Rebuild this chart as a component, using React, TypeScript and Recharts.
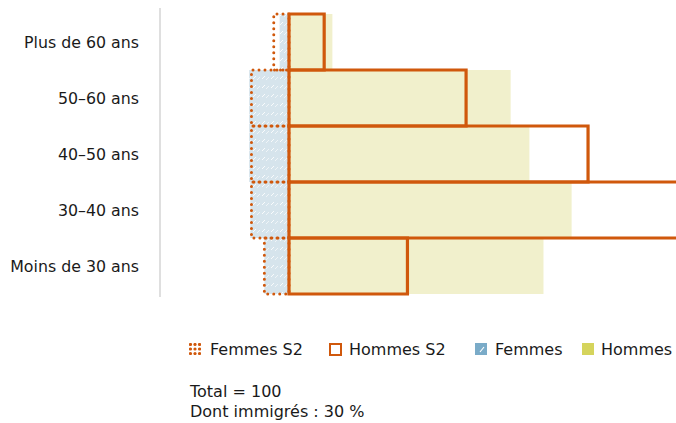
import React from "react";
import { BarChart, Bar, XAxis, YAxis, Legend } from "recharts";

const categories = ["Plus de 60 ans", "50–60 ans", "40–50 ans", "30–40 ans", "Moins de 30 ans"];
const hommes = [3.7, 18.9, 20.5, 24.1, 21.7];
const hommesS2 = [3.0, 15.1, 25.5, 36.0, 10.1];
const femmes = [-0.8, -3.4, -3.4, -3.3, -2.1];
const femmesS2 = [-1.3, -3.2, -3.2, -3.2, -2.1];
const totalLines = ["Total = 100", "Dont immigrés : 30 %"];

const ORANGE = "#d0580c";
const YELLOW = "#f1f0cc";
const BLUE = "#d6e4ec";
const FONT = "'DejaVu Sans', sans-serif";

const data = categories.map((c, i) => ({
  cat: c,
  hommes: hommes[i],
  hommesS2: hommesS2[i],
  femmes: femmes[i],
  femmesS2: femmesS2[i],
}));

const Dots = () => (
  <svg width={12} height={12}>
    {[1.5, 6, 10.5].map((x) =>
      [1.5, 6, 10.5].map((y) => <circle key={`${x}-${y}`} cx={x} cy={y} r={1.6} fill={ORANGE} />)
    )}
  </svg>
);

const LegendContent = () => {
  const item = (icon: React.ReactNode, label: string, left: number, gap: number) => (
    <div style={{ position: "absolute", left, top: 0, display: "flex", alignItems: "center", height: 20 }}>
      {icon}
      <span style={{ marginLeft: gap }}>{label}</span>
    </div>
  );
  return (
    <div style={{ position: "relative", width: 676, height: 0, fontFamily: FONT, fontSize: 16, color: "#1a1a1a" }}>
      {item(<Dots />, "Femmes S2", 189, 9)}
      {item(
        <svg width={13} height={13}>
          <rect x={1} y={1} width={11} height={11} fill="none" stroke={ORANGE} strokeWidth={2} />
        </svg>,
        "Hommes S2",
        329,
        7
      )}
      {item(
        <svg width={12} height={12}>
          <rect x={0} y={0} width={12} height={12} fill="#7aabc8" />
          <line x1={5} y1={9} x2={9} y2={4} stroke="#fff" strokeWidth={1.2} />
        </svg>,
        "Femmes",
        475,
        8
      )}
      {item(
        <svg width={12} height={12}>
          <rect x={0} y={0} width={12} height={12} fill="#d5d45c" />
        </svg>,
        "Hommes",
        582,
        7
      )}
      <div style={{ position: "absolute", left: 190, top: 43, lineHeight: "20px", whiteSpace: "nowrap" }}>
        {totalLines.map((t) => (
          <div key={t}>{t}</div>
        ))}
      </div>
    </div>
  );
};

export default function App() {
  return (
    <div style={{ position: "absolute", left: 0, top: 0 }}>
      <svg width={0} height={0} style={{ position: "absolute" }}>
        <defs>
          <pattern id="hatch" width={9} height={9} patternUnits="userSpaceOnUse">
            <rect width={9} height={9} fill={BLUE} />
            <line x1={1} y1={7} x2={4} y2={4} stroke="#ffffff" strokeWidth={1} opacity={0.85} />
            <line x1={5} y1={8} x2={8} y2={5} stroke="#ffffff" strokeWidth={1} opacity={0.6} />
          </pattern>
        </defs>
      </svg>
      <BarChart
        width={676}
        height={423}
        data={data}
        layout="vertical"
        margin={{ top: 8, right: 0, bottom: 126, left: 0 }}
        barCategoryGap={0}
        barGap="-100%"
      >
        <XAxis type="number" domain={[-11, 33]} allowDataOverflow hide />
        <YAxis
          type="category"
          dataKey="cat"
          width={160}
          padding={{ top: 6, bottom: 3 }}
          axisLine={{ stroke: "#d4d4d4", strokeWidth: 1.5 }}
          tickLine={false}
          tickMargin={15}
          tick={{ fill: "#1a1a1a", fontSize: 15.8, fontFamily: FONT }}
        />
        <Bar dataKey="hommes" fill={YELLOW} isAnimationActive={false} legendType="none" />
        <Bar dataKey="femmes" fill="url(#hatch)" isAnimationActive={false} legendType="none" />
        <Bar
          dataKey="hommesS2"
          fill="none"
          stroke={ORANGE}
          strokeWidth={3.2}
          isAnimationActive={false}
          legendType="none"
        />
        <Bar
          dataKey="femmesS2"
          fill="none"
          stroke={ORANGE}
          strokeWidth={3}
          strokeDasharray="0 6"
          strokeLinecap="round"
          isAnimationActive={false}
          legendType="none"
        />
        <Legend
          content={<LegendContent />}
          wrapperStyle={{ position: "absolute", left: 0, top: 339, width: 676, height: 0 }}
        />
      </BarChart>
    </div>
  );
}
